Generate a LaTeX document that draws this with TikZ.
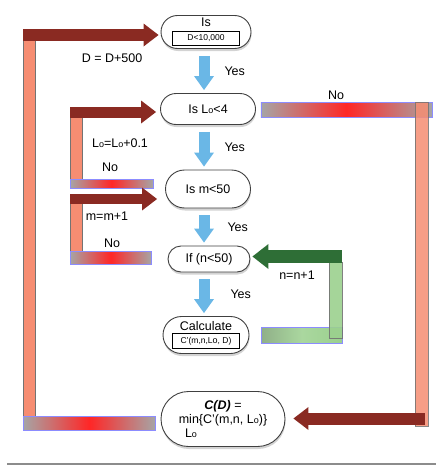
\documentclass[tikz,border=0pt]{standalone}
\usepackage{fontspec}
\setmainfont{Liberation Sans}
\usepackage{tikz}
\usetikzlibrary{shapes.misc, arrows.meta, shadows, calc}
\definecolor{loopred}{HTML}{8A2A22}
\definecolor{barsalmon}{HTML}{F68D72}
\definecolor{yesblue}{HTML}{6AB7E6}
\definecolor{loopgreen}{HTML}{2E6E36}
\definecolor{bargreen}{HTML}{9BD08E}
\newcommand{\Lzero}{L{\fontsize{9}{9}\selectfont o}}
\newcommand{\condbox}[1]{{\setlength{\fboxsep}{3pt}\setlength{\fboxrule}{0.7pt}\fbox{\makebox[60pt]{\fontsize{8.5}{9}\selectfont #1}}}}
\tikzstyle{decision} = [rounded rectangle, draw=black!75, line width=0.9pt, fill=white, drop shadow={shadow xshift=0.5pt, shadow yshift=-2.5pt, opacity=0.35}, align=center, inner sep=2pt, font=\fontsize{12.5}{14}\selectfont]
\tikzstyle{lbl} = [font=\fontsize{12.5}{14}\selectfont, inner sep=0pt]
\tikzstyle{yesarrow} = [draw=yesblue, line width=11pt, -{Triangle[length=14pt, width=20pt, line width=0pt]}, shorten <=7pt, shorten >=3pt]
\tikzstyle{looparrow} = [draw=loopred, line width=12pt, -{Triangle[length=15pt, width=23pt, line width=0pt]}]
\tikzstyle{greenarrow} = [draw=loopgreen, line width=13pt, -{Triangle[length=16pt, width=25pt, line width=0pt]}]
\tikzstyle{salmonbar} = [fill=barsalmon, draw=black!55, line width=0.4pt]
\tikzstyle{greenfill} = [fill=bargreen, draw=black!55, line width=0.4pt, opacity=0.9]
\tikzstyle{redbar} = [left color=black!35, right color=black!35, middle color=red!85, draw=blue!45, line width=0.4pt]
\tikzstyle{greenbar} = [left color=bargreen!60!gray, right color=bargreen, middle color=bargreen!85!white, draw=blue!45, line width=0.4pt]

\begin{document}
\begin{tikzpicture}[x=1pt, y=-1pt]
        \useasboundingbox (0,0) rectangle (443,471);

        \node (dtest) [decision, minimum width=94pt, minimum height=33pt] at (206,32) {Is\\[0pt]\condbox{D<10,000}};
        \node (lotest) [decision, minimum width=99pt, minimum height=31pt] at (208,109) {Is \Lzero<4};
        \node (mtest) [decision, minimum width=89pt, minimum height=38pt] at (208,189) {Is m<50};
        \node (ntest) [decision, minimum width=86pt, minimum height=26pt] at (209,259) {If (n<50)};
        \node (calc) [decision, minimum width=90pt, minimum height=37pt] at (206,335) {Calculate\\[-1pt]\condbox{C'(m,n,\Lzero, D)}};
        \node (cmin) [decision, minimum width=128pt, minimum height=55pt] at (223,419) {\textbf{\textit{C(D)}} =\\min\{C'(m,n, \Lzero)\}\\\Lzero\hspace*{64pt}};

        % yes branches
        \draw [yesarrow] ([xshift=-2pt]dtest.south) -- ([xshift=-2pt]dtest.south |- lotest.north) node[lbl, midway, right=15pt] {Yes};
        \draw [yesarrow] ([xshift=-4pt]lotest.south) -- ([xshift=-4pt]lotest.south |- mtest.north) node[lbl, midway, right=15pt] {Yes};
        \draw [yesarrow] ([xshift=-4pt]mtest.south) -- ([xshift=-4pt]mtest.south |- ntest.north) node[lbl, midway, right=18pt] {Yes};
        \draw [yesarrow] ([xshift=-5pt]ntest.south) -- ([xshift=-5pt]ntest.south |- calc.north) node[lbl, midway, right=21pt] {Yes};

        % loop over D
        \coordinate (dlow) at (29,423);
        \coordinate (dhigh) at (29,35);
        \draw [salmonbar] ($(dhigh)+(-6,-6)$) rectangle ($(dlow)+(6,0)$);
        \draw [redbar] ($(dlow)+(-6,-7)$) rectangle ($(cmin.west |- dlow)+(-5,7)$);
        \draw [looparrow] ($(dhigh)+(-6,0)$) -- ($(dtest.west |- dhigh)+(-2,0)$);
        \node (dstep) [lbl] at (112,58) {D = D+500};

        % loop over Lo
        \coordinate (lhigh) at (76,112);
        \coordinate (llow) at (76,184);
        \draw [salmonbar] ($(lhigh)+(-6,-5)$) rectangle ($(llow)+(6,0)$);
        \draw [redbar] ($(llow)+(-6,-4.5)$) rectangle ($(mtest.west |- llow)+(-12,4.5)$);
        \draw [looparrow, line width=11pt] ($(lhigh)+(-6,0)$) -- ($(lotest.west |- lhigh)+(-4,0)$);
        \node (lstep) [lbl] at (120,143) {\Lzero=\Lzero+0.1};
        \node (lno) [lbl] at (110,167) {No};

        % loop over m
        \coordinate (mhigh) at (76,199);
        \coordinate (mlow) at (76,258);
        \draw [salmonbar] ($(mhigh)+(-6,-4)$) rectangle ($(mlow)+(6,0)$);
        \draw [redbar] ($(mlow)+(-6,-6.5)$) rectangle ($(ntest.west |- mlow)+(-16,6.5)$);
        \draw [looparrow, line width=10pt] ($(mhigh)+(-6,0)$) -- ($(mtest.west |- mhigh)+(-8,0)$);
        \node (mstep) [lbl] at (107,216) {m=m+1};
        \node (mno) [lbl] at (112,243) {No};

        % no from Lo test
        \coordinate (rhigh) at (421.5,109.5);
        \coordinate (rlow) at (421.5,418.5);
        \draw [redbar] ($(lotest.east |- rhigh)+(5,-7.5)$) rectangle ($(rhigh)+(10.5,7.5)$);
        \draw [salmonbar, opacity=0.85] ($(rhigh)+(-6.5,-7.5)$) rectangle ($(rlow)+(6.5,7.5)$);
        \draw [looparrow] ($(rlow)+(3.5,0)$) -- ($(cmin.east |- rlow)+(8,0)$);
        \node (rno) [lbl] at (336,95) {No};

        % loop over n
        \coordinate (ghigh) at (335.5,256.5);
        \coordinate (glow) at (335.5,335);
        \draw [greenbar] ($(calc.east |- glow)+(12,-8)$) rectangle ($(glow)+(6.5,8)$);
        \draw [greenfill] ($(ghigh)+(-6.5,5.5)$) rectangle ($(glow)+(6.5,3)$);
        \draw [greenarrow] ($(ghigh)+(6.5,0)$) -- ($(ntest.east |- ghigh)+(2,0)$);
        \node (nstep) [lbl] at (297,275) {n=n+1};

        \draw [black!45, line width=1.2pt] (7,464) -- (436,464);
    \end{tikzpicture}
\end{document}
